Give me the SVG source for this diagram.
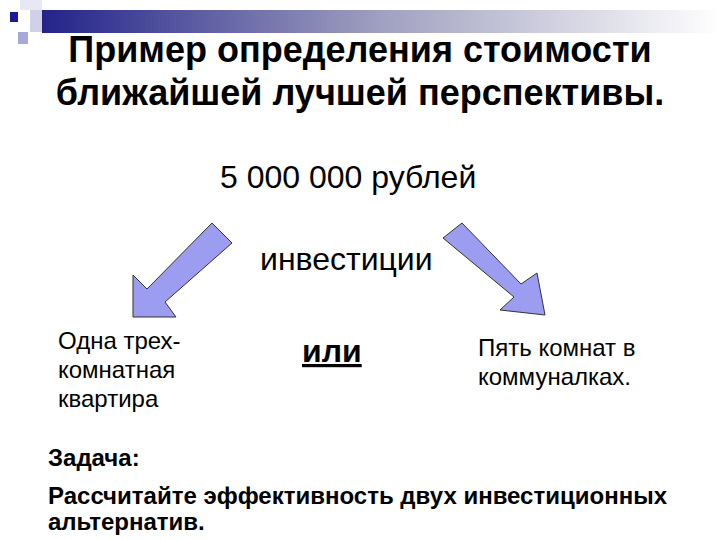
<svg xmlns="http://www.w3.org/2000/svg" width="720" height="540" viewBox="0 0 720 540">
<defs>
<linearGradient id="bar" x1="0" x2="1" y1="0" y2="0"><stop offset="0" stop-color="#23238a"/><stop offset="0.5" stop-color="#a0a0c0"/><stop offset="1" stop-color="#ffffff"/></linearGradient>
<style>
.t{font-family:"Liberation Sans",Arial,sans-serif;fill:#000}
.arr{fill:#9c9cf0;stroke:#333;stroke-width:1}
</style>
</defs>
<rect width="720" height="540" fill="#fff"/>
<g id="decor">
<rect x="42" y="10" width="678" height="23" fill="url(#bar)"/>
<rect x="20" y="0" width="22" height="10" fill="#e8e8f4"/>
<rect x="30" y="10" width="12" height="22" fill="#d0d0e8"/>
<rect x="10" y="12" width="8" height="10" fill="#1a1a9a"/>
<rect x="18" y="32" width="10" height="12" fill="#a8a8d8"/>
</g>
<g id="title"><text class="t" x="360" y="62" font-size="36" font-weight="bold" text-anchor="middle">Пример определения стоимости</text>
<text class="t" x="360" y="105" font-size="36" font-weight="bold" text-anchor="middle">ближайшей лучшей перспективы.</text></g>
<g id="amount"><text class="t" x="220" y="188" font-size="32">5 000 000 рублей</text></g>
<g id="invest"><text class="t" x="260" y="270" font-size="32">инвестиции</text></g>
<g id="connectors">
<polygon class="arr" points="212,223 232,243 165,302 176,317 133,317 133,275 147,289"/>
<polygon class="arr" points="462,223 521,284 537,273 545,315 500,310 514,297 443,238"/>
</g>
<g id="left"><text class="t" font-size="24" x="58" y="349">Одна трех-</text><text class="t" font-size="24" x="58" y="378">комнатная</text><text class="t" font-size="24" x="58" y="407">квартира</text></g>
<g id="or"><text class="t" x="302" y="362" font-size="32" font-weight="bold" text-decoration="underline">или</text></g>
<g id="right"><text class="t" font-size="24" x="478" y="356">Пять комнат в</text><text class="t" font-size="24" x="478" y="385">коммуналках.</text></g>
<g id="task"><text class="t" font-size="24" font-weight="bold" x="48" y="466">Задача:</text>
<text class="t" font-size="24" font-weight="bold" x="48" y="504">Рассчитайте эффективность двух инвестиционных</text>
<text class="t" font-size="24" font-weight="bold" x="48" y="530">альтернатив.</text></g>
</svg>
